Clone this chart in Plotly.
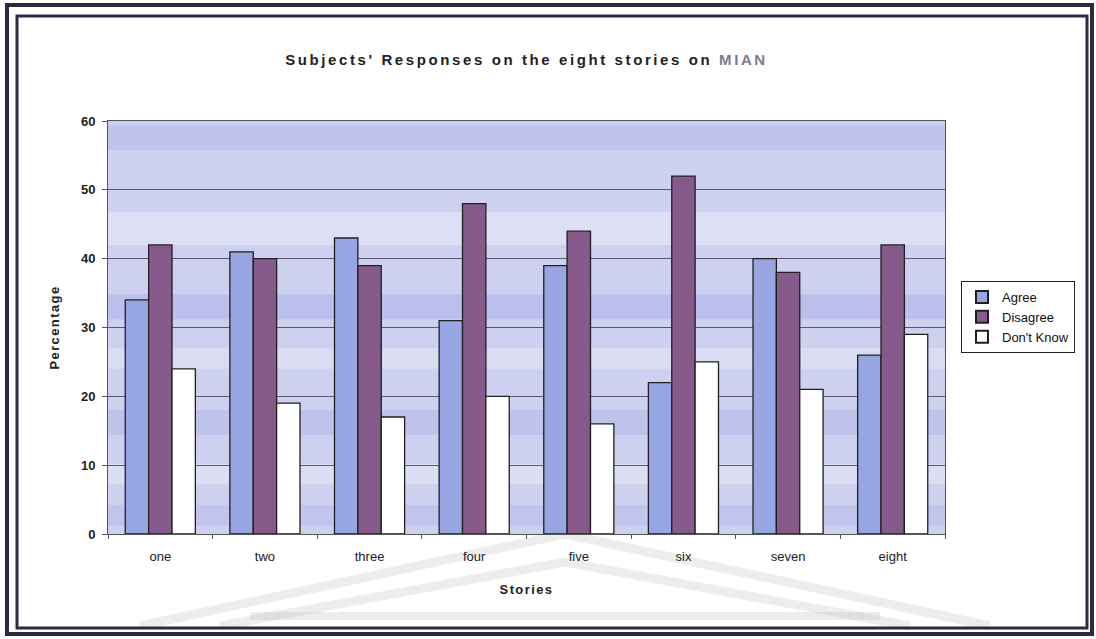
import plotly.graph_objects as go

# Story categories and response percentages
stories = ["one", "two", "three", "four", "five", "six", "seven", "eight"]
agree = [34, 41, 43, 31, 39, 22, 40, 26]
disagree = [42, 40, 39, 48, 44, 52, 38, 42]
dont_know = [24, 19, 17, 20, 16, 25, 21, 29]
y_ticks = [0, 10, 20, 30, 40, 50, 60]

W, H = 1096, 639
L, R, T, B = 108, 151, 121, 105
PW, PH = W - L - R, H - T - B


def px(x):
    return (x - L) / PW


def py(y):
    return (H - B - y) / PH


FONT = "Liberation Sans, Arial, sans-serif"
SPACED = "letter-spacing:1.4px"

fig = go.Figure()
fig.add_bar(name="Agree", x=stories, y=agree,
            marker=dict(color="#97a6e2", line=dict(color="#202020", width=1.3)))
fig.add_bar(name="Disagree", x=stories, y=disagree,
            marker=dict(color="#875a8c", line=dict(color="#202020", width=1.3)))
fig.add_bar(name="Don't Know", x=stories, y=dont_know,
            marker=dict(color="#ffffff", line=dict(color="#202020", width=1.3)))

shapes = []
# soft horizontal banding in the plot background
bands = [(0.93, 0.99, "#b9bfec"), (0.70, 0.78, "#e4e6f6"), (0.52, 0.58, "#b3b8ea"),
         (0.40, 0.45, "#dfe2f4"), (0.24, 0.30, "#b7bdea"), (0.12, 0.17, "#e2e4f5"),
         (0.02, 0.07, "#bcc1ec")]
for y0, y1, c in bands:
    shapes.append(dict(type="rect", xref="paper", yref="paper", x0=0, x1=1, y0=y0, y1=y1,
                       fillcolor=c, opacity=0.7, line=dict(width=0), layer="below"))

# faint chevron watermark below the axis
chev_col = "rgba(175,175,175,0.22)"
for apex_y, end_x0, end_x1 in ((534, 140, 990), (562, 220, 910)):
    shapes.append(dict(type="path", xref="paper", yref="paper",
                       path=f"M {px(end_x0)},{py(626)} L {px(565)},{py(apex_y)} L {px(end_x1)},{py(626)}",
                       line=dict(color=chev_col, width=9), layer="below"))
shapes.append(dict(type="line", xref="paper", yref="paper", x0=px(250), x1=px(880),
                   y0=py(616), y1=py(616), line=dict(color=chev_col, width=8), layer="below"))

# double frame around the chart
shapes.append(dict(type="rect", xref="paper", yref="paper", x0=px(7), x1=px(1092),
                   y0=py(634), y1=py(5), line=dict(color="#2a2a40", width=4)))
shapes.append(dict(type="rect", xref="paper", yref="paper", x0=px(17), x1=px(1087),
                   y0=py(628), y1=py(16), line=dict(color="#2a2a40", width=3)))

fig.update_layout(
    width=W, height=H,
    margin=dict(l=L, r=R, t=T, b=B),
    paper_bgcolor="white",
    plot_bgcolor="#cdd1ef",
    barmode="group",
    bargap=0.33,
    bargroupgap=0,
    font=dict(family=FONT, color="#222222", size=12),
    title=dict(
        text=("<span style='letter-spacing:2.6px'><b>Subjects' Responses on the eight stories on "
              "<span style='color:#7a7a8a'>MIAN</span></b></span>"),
        x=0.5, xref="paper", yref="container", y=1 - 60 / H, yanchor="middle",
        font=dict(family=FONT, size=15, color="#222222"),
    ),
    legend=dict(
        x=px(961), y=py(281), xanchor="left", yanchor="top",
        bgcolor="white", bordercolor="#222222", borderwidth=1,
        font=dict(family=FONT, size=13, color="#111111"),
        itemsizing="constant", itemwidth=30, tracegroupgap=4,
    ),
    shapes=shapes,
    xaxis=dict(
        title=dict(text=f"<span style='{SPACED}'><b>Stories</b></span>",
                   font=dict(size=13), standoff=22),
        showline=True, linecolor="#555555", mirror=True,
        ticks="outside", tickson="boundaries", ticklen=4, tickcolor="#555555",
        ticklabelstandoff=10,
        tickfont=dict(size=13, color="#222222"),
        showgrid=False,
    ),
    yaxis=dict(
        title=dict(text=f"<span style='{SPACED}'><b>Percentage</b></span>",
                   font=dict(size=13), standoff=18),
        range=[0, 60], tickvals=y_ticks,
        ticktext=[f"<b>{v}</b>" for v in y_ticks],
        showline=True, linecolor="#555555", mirror=True,
        ticks="outside", ticklen=5, tickcolor="#555555",
        ticklabelstandoff=4,
        showgrid=True, gridcolor="#5a5a6a", gridwidth=1,
        zeroline=False,
        tickfont=dict(size=13, color="#222222"),
    ),
)

fig.write_html("out.html")
